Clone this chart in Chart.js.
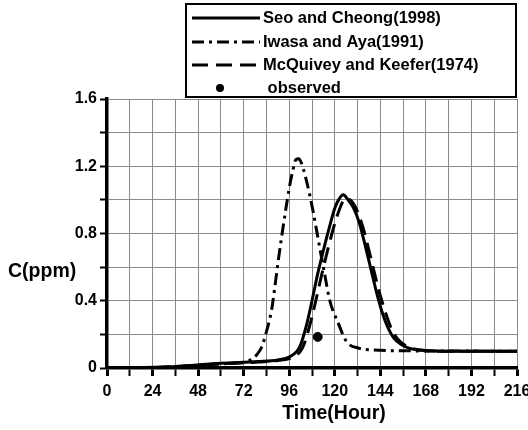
<!DOCTYPE html>
<html>
<head>
<meta charset="utf-8">
<script src="https://cdn.jsdelivr.net/npm/chart.js@4.4.0/dist/chart.umd.min.js"></script>
<style>
  html, body { margin: 0; padding: 0; background: #fff; }
  #wrap { width: 528px; height: 430px; position: relative; }
</style>
</head>
<body>
<div id="wrap"><canvas id="c" width="528" height="430"></canvas></div>
<script>
// Seo and Cheong (1998) - solid
const seoT = [0, 35, 60, 80, 90, 96, 101.6, 105, 108, 111, 114, 117, 120, 122, 124.5, 127, 130, 133, 136, 139, 142, 145, 148, 151, 155, 160, 168, 180, 216];
const seoC = [0, 0.008, 0.028, 0.038, 0.048, 0.065, 0.127, 0.25, 0.40, 0.56, 0.70, 0.83, 0.95, 1.0, 1.03, 1.0, 0.95, 0.86, 0.73, 0.59, 0.45, 0.33, 0.24, 0.18, 0.14, 0.115, 0.104, 0.1, 0.1];

// Iwasa and Aya (1991) - dash-dot
const iwaT = [0, 30, 60, 72, 76, 79, 81.5, 84, 86.7, 88.4, 90, 92, 94, 96, 98, 99.5, 101, 102.4, 104.5, 106.8, 108.6, 110.4, 112, 114, 117.4, 121.7, 126.2, 133, 140, 160, 216];
const iwaC = [0, 0.005, 0.025, 0.035, 0.05, 0.08, 0.125, 0.216, 0.345, 0.48, 0.62, 0.78, 0.93, 1.07, 1.18, 1.24, 1.245, 1.22, 1.14, 1.03, 0.93, 0.82, 0.72, 0.60, 0.40, 0.27, 0.157, 0.117, 0.107, 0.102, 0.1];

// McQuivey and Keefer (1974) - long dash
const mcqT = [0, 30, 60, 80, 90, 97, 103, 106.5, 110, 113, 116, 119, 122, 124, 126, 129, 132, 135, 138, 141, 144, 147, 150, 153, 157, 162, 168, 176, 216];
const mcqC = [0, 0.005, 0.025, 0.035, 0.045, 0.06, 0.12, 0.24, 0.40, 0.55, 0.69, 0.82, 0.93, 0.985, 1.01, 0.99, 0.93, 0.83, 0.70, 0.56, 0.43, 0.32, 0.23, 0.175, 0.135, 0.113, 0.103, 0.1, 0.1];

// observed
const obsT = [111];
const obsC = [0.185];

const labels = ['Seo and Cheong(1998)', 'Iwasa and Aya(1991)', 'McQuivey and Keefer(1974)', ' observed'];
const FONT = '"Liberation Sans", Arial, sans-serif';

const pts = (t, c) => t.map((x, i) => ({ x: x, y: c[i] }));

const line = (label, t, c, dash) => ({
  label: label,
  data: pts(t, c),
  borderColor: '#000',
  borderWidth: 3,
  borderDash: dash,
  pointRadius: 0,
  fill: false,
  cubicInterpolationMode: 'monotone'
});

// legend box + axis titles drawn by hand (legend is a vertical list above the plot)
const decor = {
  id: 'decor',
  afterDraw(chart) {
    const ctx = chart.ctx;
    ctx.save();
    ctx.strokeStyle = '#000';
    ctx.lineWidth = 2;
    ctx.strokeRect(186, 4, 330, 93);

    ctx.font = 'bold 16.5px ' + FONT;
    ctx.fillStyle = '#000';
    ctx.textBaseline = 'middle';
    const rows = [18, 42, 65, 88];
    const ds = chart.data.datasets;
    for (let i = 0; i < 3; i++) {
      ctx.beginPath();
      ctx.lineWidth = 3;
      ctx.setLineDash(ds[i].borderDash || []);
      ctx.moveTo(192, rows[i]);
      ctx.lineTo(260, rows[i]);
      ctx.stroke();
    }
    ctx.setLineDash([]);
    ctx.beginPath();
    ctx.arc(220, rows[3], 4, 0, Math.PI * 2);
    ctx.fill();
    for (let i = 0; i < 4; i++) ctx.fillText(labels[i], 263, rows[i]);

    ctx.font = 'bold 19.5px ' + FONT;
    ctx.textAlign = 'left';
    ctx.fillText('C(ppm)', 8, 272);
    ctx.textAlign = 'center';
    ctx.fillText('Time(Hour)', 334, 414);
    ctx.restore();
  }
};

new Chart(document.getElementById('c'), {
  type: 'line',
  data: {
    datasets: [
      line(labels[0], seoT, seoC, []),
      line(labels[1], iwaT, iwaC, [12, 5, 3, 5]),
      line(labels[2], mcqT, mcqC, [16, 8]),
      {
        label: labels[3],
        type: 'scatter',
        data: pts(obsT, obsC),
        backgroundColor: '#000',
        borderColor: '#000',
        pointRadius: 4.5,
        showLine: false
      }
    ]
  },
  options: {
    responsive: false,
    animation: false,
    layout: { padding: { left: 0, right: 11, top: 99, bottom: 0 } },
    plugins: { legend: { display: false }, tooltip: { enabled: false } },
    scales: {
      x: {
        type: 'linear',
        min: 0, max: 216,
        afterFit: (s) => { s.height = 62; s.paddingLeft = 0; s.paddingRight = 0; },
        ticks: {
          stepSize: 12,
          padding: 6,
          autoSkip: false,
          maxRotation: 0,
          minRotation: 0,
          color: '#000',
          font: { family: FONT, size: 16, weight: 'bold' },
          callback: (v) => (v % 24 === 0 ? String(v) : '')
        },
        grid: {
          color: '#8a8a8a',
          lineWidth: 1,
          tickLength: 8,
          tickColor: '#000',
          tickWidth: (c) => (c.tick && c.tick.value % 24 === 0 ? 3 : 2)
        },
        border: { color: '#000', width: 3.5 }
      },
      y: {
        min: 0, max: 1.6,
        afterFit: (s) => { s.width = 107; s.paddingTop = 0; s.paddingBottom = 0; },
        ticks: {
          stepSize: 0.2,
          padding: 3,
          color: '#000',
          font: { family: FONT, size: 16, weight: 'bold' },
          callback: (v) => {
            const k = Math.round(v * 10);
            if (k % 4 !== 0) return '';
            return k === 0 ? '0' : (k / 10).toFixed(1);
          }
        },
        grid: {
          color: '#8a8a8a',
          lineWidth: 1,
          tickLength: 7,
          tickColor: '#000',
          tickWidth: 2
        },
        border: { color: '#000', width: 3.5 }
      }
    }
  },
  plugins: [decor]
});
</script>
</body>
</html>
